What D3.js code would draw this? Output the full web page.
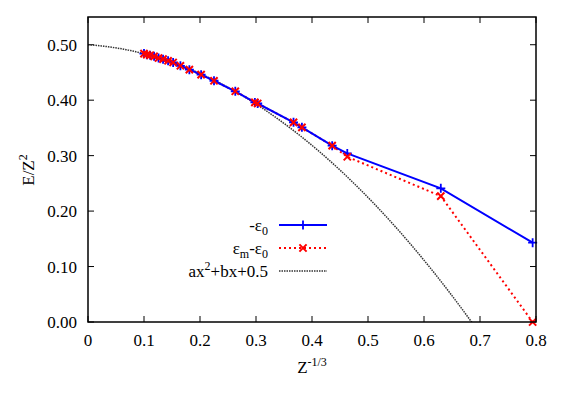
<!DOCTYPE html>
<html>
<head>
<meta charset="utf-8">
<script src="https://cdn.jsdelivr.net/npm/d3@7"></script>
<style>
  body { margin: 0; background: #fff; }
</style>
</head>
<body>
<div id="chart"></div>
<script>
// Z^-1/3 positions and E/Z^2 values
const xs      = [0.100, 0.105, 0.111, 0.118, 0.126, 0.134, 0.143, 0.152, 0.165, 0.181, 0.202, 0.225, 0.263, 0.298, 0.303, 0.367, 0.382, 0.436, 0.463, 0.630, 0.794];
const eps0    = [0.484, 0.482, 0.481, 0.479, 0.476, 0.474, 0.471, 0.468, 0.462, 0.455, 0.446, 0.435, 0.416, 0.396, 0.394, 0.360, 0.351, 0.318, 0.304, 0.241, 0.143];
const epsM    = [0.484, 0.482, 0.481, 0.479, 0.476, 0.474, 0.471, 0.468, 0.462, 0.455, 0.446, 0.435, 0.416, 0.396, 0.394, 0.360, 0.351, 0.318, 0.298, 0.227, 0.000];
const fitA = -0.970, fitB = -0.0657;
const xTicks = [0, 0.1, 0.2, 0.3, 0.4, 0.5, 0.6, 0.7, 0.8];
const yTicks = [0, 0.1, 0.2, 0.3, 0.4, 0.5];

const W = 568, H = 397;
const margin = {top: 17, right: 32, bottom: 75, left: 88};
const width = W - margin.left - margin.right;
const height = H - margin.top - margin.bottom;

const svg = d3.select("#chart").append("svg")
    .attr("width", W).attr("height", H)
    .attr("font-family", "'Liberation Serif', 'Times New Roman', Times, 'DejaVu Serif', serif");

const g = svg.append("g")
    .attr("transform", `translate(${margin.left},${margin.top})`);

const x = d3.scaleLinear().domain([0, 0.8]).range([0, width]);
const y = d3.scaleLinear().domain([0, 0.55]).range([height, 0]);

g.append("clipPath").attr("id", "clip")
  .append("rect").attr("width", width).attr("height", height);

// ticks, inward on all four sides
const tl = 6;
const tickG = g.append("g").attr("stroke", "#000").attr("stroke-width", 1);
xTicks.forEach(t => {
    tickG.append("line").attr("x1", x(t)).attr("x2", x(t)).attr("y1", height).attr("y2", height - tl);
    tickG.append("line").attr("x1", x(t)).attr("x2", x(t)).attr("y1", 0).attr("y2", tl);
});
yTicks.forEach(t => {
    tickG.append("line").attr("x1", 0).attr("x2", tl).attr("y1", y(t)).attr("y2", y(t));
    tickG.append("line").attr("x1", width).attr("x2", width - tl).attr("y1", y(t)).attr("y2", y(t));
});

g.selectAll(".xl").data(xTicks).enter().append("text")
    .attr("x", d => x(d)).attr("y", height + 24)
    .attr("text-anchor", "middle").attr("font-size", 17)
    .text(d => d === 0 ? "0" : d3.format(".1f")(d));

g.selectAll(".yl").data(yTicks).enter().append("text")
    .attr("x", -11).attr("y", d => y(d) + 6)
    .attr("text-anchor", "end").attr("font-size", 17)
    .text(d => d3.format(".2f")(d));

// fit curve
const curveX = d3.range(0, 0.801, 0.004);
const plot = g.append("g").attr("clip-path", "url(#clip)");
plot.append("path")
    .datum(curveX)
    .attr("fill", "none").attr("stroke", "#333").attr("stroke-width", 1.5)
    .attr("stroke-dasharray", "1.5,1")
    .attr("d", d3.line().x(d => x(d)).y(d => y(fitA * d * d + fitB * d + 0.5)));

// series lines
const idx = d3.range(xs.length);
plot.append("path").datum(idx)
    .attr("fill", "none").attr("stroke", "#ff0000").attr("stroke-width", 2)
    .attr("stroke-dasharray", "2,3")
    .attr("d", d3.line().x(i => x(xs[i])).y(i => y(epsM[i])));
plot.append("path").datum(idx)
    .attr("fill", "none").attr("stroke", "#0000ff").attr("stroke-width", 2)
    .attr("d", d3.line().x(i => x(xs[i])).y(i => y(eps0[i])));

const ms = 4.5;
function plus(sel, cx, cy) {
    sel.append("path").attr("d", `M${cx - ms},${cy}H${cx + ms}M${cx},${cy - ms}V${cy + ms}`)
        .attr("stroke", "#0000ff").attr("stroke-width", 1.8);
}
function cross(sel, cx, cy) {
    const s = ms * 0.8;
    sel.append("path").attr("d", `M${cx - s},${cy - s}L${cx + s},${cy + s}M${cx - s},${cy + s}L${cx + s},${cy - s}`)
        .attr("stroke", "#ff0000").attr("stroke-width", 2);
}
const marks = g.append("g");
idx.forEach(i => plus(marks, x(xs[i]), y(eps0[i])));
idx.forEach(i => cross(marks, x(xs[i]), y(epsM[i])));

// frame
g.append("rect").attr("width", width).attr("height", height)
    .attr("fill", "none").attr("stroke", "#000").attr("stroke-width", 1.5);

// legend
const lg = svg.append("g");
const rows = [225, 248, 271];
const lx0 = 279, lx1 = 327, tx = 268;
function legText(yy, parts) {
    const t = lg.append("text").attr("x", tx).attr("y", yy + 6)
        .attr("text-anchor", "end").attr("font-size", 17);
    parts.forEach(p => {
        const ts = t.append("tspan").text(p[0]);
        if (p[1] === "sub") ts.attr("font-size", 12).attr("dy", 4);
        if (p[1] === "sup") ts.attr("font-size", 12).attr("dy", -7);
        if (p[2]) ts.attr("dy", p[2]);
    });
}
legText(rows[0], [["-ε"], ["0", "sub"]]);
legText(rows[1], [["ε"], ["m", "sub"], ["-ε", null, -4], ["0", "sub"]]);
legText(rows[2], [["ax"], ["2", "sup"], ["+bx+0.5", null, 7]]);
lg.append("line").attr("x1", lx0).attr("x2", lx1).attr("y1", rows[0]).attr("y2", rows[0])
    .attr("stroke", "#0000ff").attr("stroke-width", 2);
plus(lg, (lx0 + lx1) / 2, rows[0]);
lg.append("line").attr("x1", lx0).attr("x2", lx1).attr("y1", rows[1]).attr("y2", rows[1])
    .attr("stroke", "#ff0000").attr("stroke-width", 2).attr("stroke-dasharray", "2,3");
cross(lg, (lx0 + lx1) / 2, rows[1]);
lg.append("line").attr("x1", lx0).attr("x2", lx1).attr("y1", rows[2]).attr("y2", rows[2])
    .attr("stroke", "#333").attr("stroke-width", 1.5).attr("stroke-dasharray", "1.5,1");

// axis titles
const xt = svg.append("text").attr("x", 312).attr("y", 373)
    .attr("text-anchor", "middle").attr("font-size", 17);
xt.append("tspan").text("Z");
xt.append("tspan").text("-1/3").attr("font-size", 12).attr("dy", -7);

const yt = svg.append("text")
    .attr("transform", "translate(34,170) rotate(-90)")
    .attr("text-anchor", "middle").attr("font-size", 17);
yt.append("tspan").text("E/Z");
yt.append("tspan").text("2").attr("font-size", 12).attr("dy", -7);
</script>
</body>
</html>
